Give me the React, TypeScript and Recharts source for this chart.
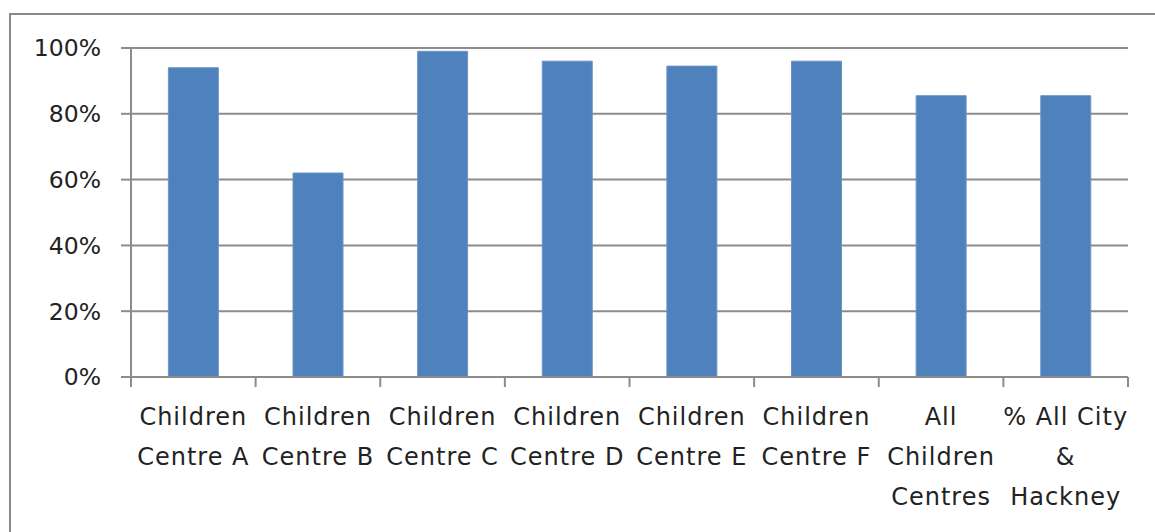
import React from "react";
import { BarChart, Bar, XAxis, YAxis, CartesianGrid } from "recharts";

const categories = [
  "Children\nCentre A",
  "Children\nCentre B",
  "Children\nCentre C",
  "Children\nCentre D",
  "Children\nCentre E",
  "Children\nCentre F",
  "All\nChildren\nCentres",
  "% All City\n&\nHackney",
];
const values = [94, 62, 99, 96, 94.5, 96, 85.5, 85.5];
const yTicks = [0, 20, 40, 60, 80, 100];

const data = categories.map((name, i) => ({ name, value: values[i] }));

const W = 1155;
const H = 532;
const M = { top: 48, right: 27, bottom: 0, left: 0 };
const Y_W = 131;
const X_H = 155;
const band = (W - M.right - Y_W) / categories.length;
const FONT = "'DejaVu Sans', sans-serif";

const XTick = (props: any) => {
  const { x, y, payload, index } = props;
  const lines: string[] = String(payload.value).split("\n");
  const axisY = y - 8;
  const left = x - band / 2;
  const right = x + band / 2;
  return (
    <g>
      <line x1={left} y1={axisY} x2={left} y2={axisY + 10} stroke="#8c8c8c" strokeWidth={2} />
      {index === categories.length - 1 && (
        <line x1={right} y1={axisY} x2={right} y2={axisY + 10} stroke="#8c8c8c" strokeWidth={2} />
      )}
      {lines.map((l, i) => (
        <text
          key={i}
          x={x}
          y={axisY + 48 + i * 40}
          textAnchor="middle"
          fill="#222"
          fontSize={24}
          letterSpacing={1}
          fontFamily={FONT}
        >
          {l}
        </text>
      ))}
    </g>
  );
};

export default function App() {
  return (
    <div style={{ position: "absolute", left: 0, top: 0, width: W, height: H, overflow: "hidden", background: "#fff" }}>
      <div
        style={{
          position: "absolute",
          left: 9,
          top: 13,
          width: W + 20,
          height: H + 20,
          border: "2px solid #8a8a8a",
          boxSizing: "border-box",
        }}
      />
      <BarChart width={W} height={H} data={data} margin={M} barCategoryGap="30%">
        <CartesianGrid vertical={false} stroke="#8c8c8c" strokeWidth={2} />
        <XAxis
          dataKey="name"
          height={X_H}
          interval={0}
          tickLine={false}
          axisLine={{ stroke: "#8c8c8c", strokeWidth: 2 }}
          tick={<XTick />}
        />
        <YAxis
          width={Y_W}
          domain={[0, 100]}
          ticks={yTicks}
          tickFormatter={(v: number) => `${v}%`}
          tickSize={10}
          tickMargin={20}
          tickLine={{ stroke: "#8c8c8c", strokeWidth: 2 }}
          axisLine={{ stroke: "#8c8c8c", strokeWidth: 2 }}
          tick={{ fill: "#222", fontSize: 23.5, fontFamily: FONT }}
        />
        <Bar dataKey="value" fill="#4f81bd" stroke="#6b94c6" strokeWidth={1} isAnimationActive={false} />
      </BarChart>
    </div>
  );
}
